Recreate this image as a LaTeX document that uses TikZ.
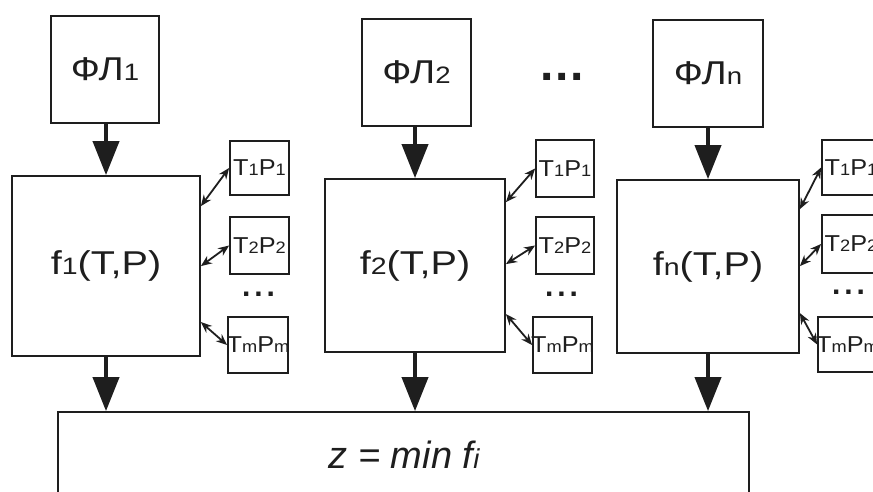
\documentclass[tikz,border=0pt]{standalone}
\usepackage{fontspec}
\setmainfont{Liberation Sans}
\usepackage{graphicx}
\usetikzlibrary{arrows.meta,calc}
\newcommand{\sbx}[1]{\scalebox{0.72}{#1}}
\newcommand{\wid}[2]{\scalebox{#1}[1]{#2}}
\definecolor{ink}{HTML}{1E1E1E}
\begin{document}
\begin{tikzpicture}[x=1pt,y=-1pt,
  boxline/.style={draw=ink,line width=1.8pt,inner sep=0pt,text=ink},
  topbox/.style={boxline,minimum width=108pt,minimum height=107pt,font=\fontsize{33}{36}\selectfont},
  funbox/.style={boxline,font=\fontsize{33}{38}\selectfont},
  smallbox/.style={boxline,minimum width=59pt,minimum height=56pt,font=\fontsize{23}{26}\selectfont},
  bigarr/.style={draw=ink,line width=4pt,-{Triangle[length=34pt,width=26pt]}},
  dblarr/.style={draw=ink,line width=1.8pt,{Stealth[length=11pt,width=9pt]}-{Stealth[length=11pt,width=9pt]}},
  dotstyle/.style={inner sep=0pt,text=ink}
]
\useasboundingbox (0,0) rectangle (873,492);
\fill[white] (0,0) rectangle (873,492);
\clip (0,0) rectangle (873,492);

% top boxes
\node[topbox] (fl1) at (105,69.5) {\wid{1.16}{ФЛ\sbx{1}}};
\node[topbox,minimum width=109pt] (fl2) at (416.5,72.5) {\wid{1.16}{ФЛ\sbx{2}}};
\node[topbox,minimum width=110pt] (fln) at (708,73.5) {\wid{1.16}{ФЛ\sbx{n}}};
\node[dotstyle,font=\fontsize{48}{50}\selectfont\bfseries] (tdots) at (562,77) {.\kern2pt.\kern2pt.};

% function boxes
\node[funbox,minimum width=188pt,minimum height=180pt] (f1) at (106,266) {\wid{1.2}{f\sbx{1}(T,P)}};
\node[funbox,minimum width=180pt,minimum height=173pt] (f2) at (415,265.5) {\wid{1.2}{f\sbx{2}(T,P)}};
\node[funbox,minimum width=182pt,minimum height=173pt] (fn) at (708,266.5) {\wid{1.2}{f\sbx{n}(T,P)}};

% small boxes group 1
\node[smallbox,minimum height=54pt] (a1) at (259.5,168) {\makebox[0pt]{\wid{1.1}{T\sbx{1}P\sbx{1}}}};
\node[smallbox,minimum height=57pt] (b1) at (259.5,245.5) {\makebox[0pt]{\wid{1.1}{T\sbx{2}P\sbx{2}}}};
\node[smallbox,minimum width=60pt] (c1) at (258,345) {\makebox[0pt]{\wid{1.1}{T\sbx{m}P\sbx{m}}}};
\node[dotstyle,font=\fontsize{30}{32}\selectfont\bfseries] (d1) at (258.5,294) {.\kern4pt.\kern4pt.};

% small boxes group 2
\node[smallbox,minimum width=58pt,minimum height=57pt] (a2) at (565,168.5) {\makebox[0pt]{\wid{1.1}{T\sbx{1}P\sbx{1}}}};
\node[smallbox,minimum width=58pt,minimum height=57pt] (b2) at (565,245.5) {\makebox[0pt]{\wid{1.1}{T\sbx{2}P\sbx{2}}}};
\node[smallbox] (c2) at (562.5,345) {\makebox[0pt]{\wid{1.1}{T\sbx{m}P\sbx{m}}}};
\node[dotstyle,font=\fontsize{30}{32}\selectfont\bfseries] (d2) at (561.5,294) {.\kern4pt.\kern4pt.};

% small boxes group n
\node[smallbox,minimum width=58pt,minimum height=55pt] (an) at (851,167.5) {\makebox[0pt]{\wid{1.1}{T\sbx{1}P\sbx{1}}}};
\node[smallbox,minimum width=58pt,minimum height=58pt] (bn) at (851,244) {\makebox[0pt]{\wid{1.1}{T\sbx{2}P\sbx{2}}}};
\node[smallbox,minimum height=55pt] (cn) at (847.5,344.5) {\makebox[0pt]{\wid{1.1}{T\sbx{m}P\sbx{m}}}};
\node[dotstyle,font=\fontsize{30}{32}\selectfont\bfseries] (dn) at (848.5,292) {.\kern4pt.\kern4pt.};

% bottom box
\node[boxline,minimum width=691pt,minimum height=128pt] (zbox) at (403.5,476) {};
\node[inner sep=0pt,text=ink,font=\fontsize{38}{42}\selectfont\itshape] (zlab) at (404,455) {z = min f\sbx{i}};

% top arrows
\draw[bigarr] (fl1.south -| f1.north) -- (f1.north);
\draw[bigarr] (fl2.south -| f2.north) -- (f2.north);
\draw[bigarr] (fln.south -| fn.north) -- (fn.north);

% bottom arrows
\draw[bigarr] (f1.south) -- (f1.south |- zbox.north);
\draw[bigarr] (f2.south) -- (f2.south |- zbox.north);
\draw[bigarr] (fn.south) -- (fn.south |- zbox.north);

% double arrows
\draw[dblarr] ([yshift=-31pt]f1.north east) -- (a1.west);
\draw[dblarr] ([yshift=-91pt]f1.north east) -- (b1.west);
\draw[dblarr] ([yshift=-147pt]f1.north east) -- (c1.west);
\draw[dblarr] ([yshift=-24pt]f2.north east) -- (a2.west);
\draw[dblarr] ([yshift=-86pt]f2.north east) -- (b2.west);
\draw[dblarr] ([yshift=-136pt]f2.north east) -- (c2.west);
\draw[dblarr] ([yshift=-30pt]fn.north east) -- (an.west);
\draw[dblarr] ([yshift=-87pt]fn.north east) -- (bn.west);
\draw[dblarr] ([yshift=-134pt]fn.north east) -- (cn.west);
\end{tikzpicture}
\end{document}
